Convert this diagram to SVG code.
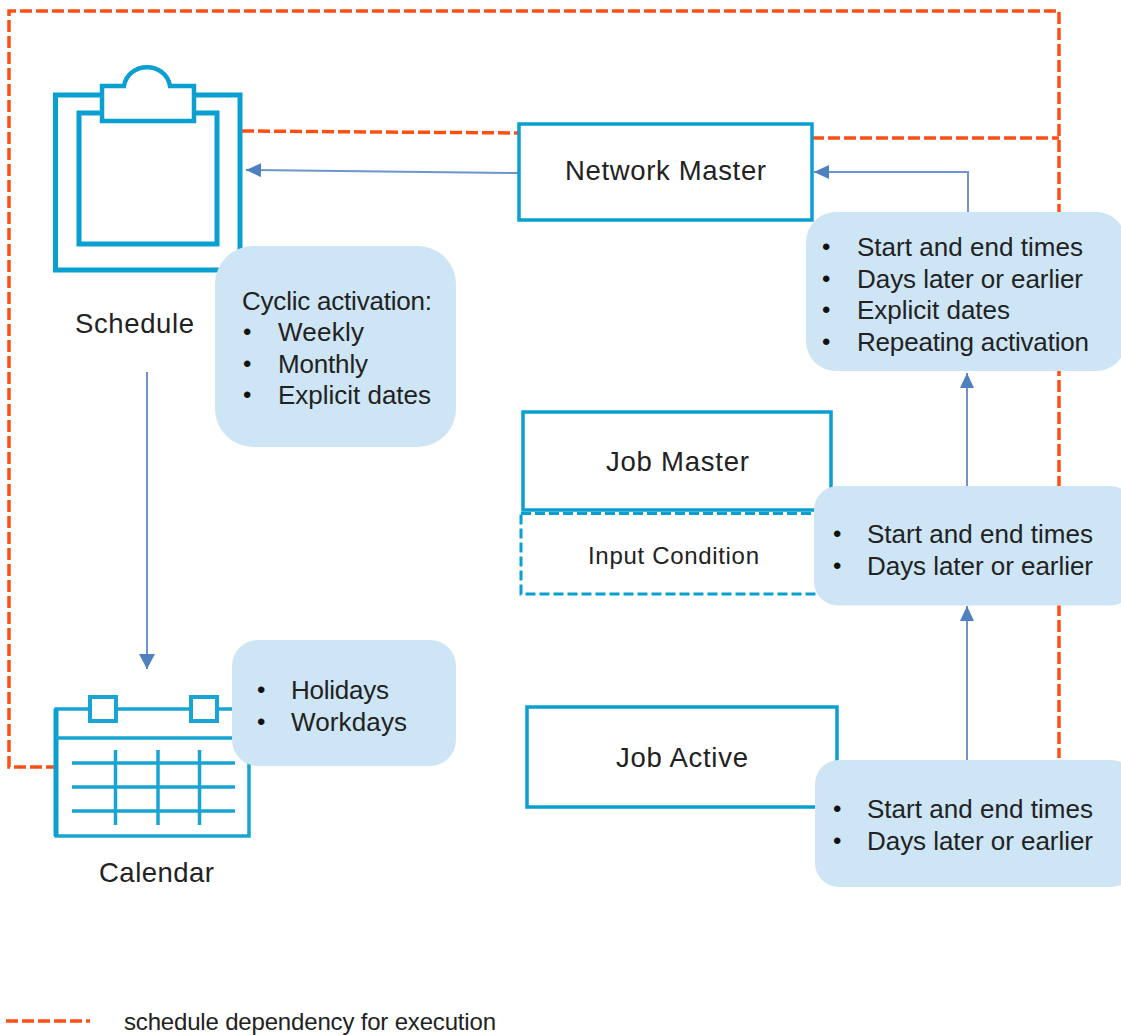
<svg xmlns="http://www.w3.org/2000/svg" width="1121" height="1035" viewBox="0 0 1121 1035">
<style>
text{font-family:"Liberation Sans",Arial,sans-serif;font-size:26px;fill:#222}
.m{text-anchor:middle}
.n{font-size:27.500px}
.d{font-size:24px;fill:#111}
.box{fill:#fff;stroke:#0a9fd1;stroke-width:3.5}
.icon{fill:none;stroke:#0a9fd1;stroke-width:5}
.thin{fill:none;stroke:#18a5d4;stroke-width:3.5}
.call{fill:#cde5f5}
.dep{fill:none;stroke:#ff4f14;stroke-width:3.5;stroke-dasharray:12 4}
.flow{fill:none;stroke:#6f94cc;stroke-width:2}
.head{fill:#4f80c0}
</style>
<defs><marker id="b" markerUnits="userSpaceOnUse" markerWidth="16" markerHeight="14" refX="15" refY="7" orient="auto"><path d="M0 0L15 7L0 14Z" class="head"/></marker>
<marker id="c" markerUnits="userSpaceOnUse" markerWidth="16" markerHeight="17" refX="15" refY="8" orient="auto"><path d="M0 0L15 8L0 16Z" class="head"/></marker></defs>
<g id="connectors">
<path class="dep" d="M242 131L518 133M812 138H1059M58 767H9V11H1059V758"/>
<path class="flow" d="M518 173L246 170" marker-end="url(#b)"/>
<path class="flow" d="M968 212V172H814" marker-end="url(#b)"/>
<path class="flow" d="M967 486V373" marker-end="url(#b)"/>
<path class="flow" d="M967 760V606" marker-end="url(#b)"/>
<path class="flow" d="M147 372V669" marker-end="url(#c)"/>
</g>
<g id="schedule">
<rect class="icon" x="55.500" y="95" width="184.500" height="175"/>
<rect class="icon" x="79" y="113" width="138" height="131"/>
<path d="M102 121V86H124C128 61 166 61 170 86H194V121Z" fill="#fff" stroke="#0a9fd1" stroke-width="4.500"/>
<text x="134.500" y="333" class="m n" textLength="119">Schedule</text>
</g>
<g id="calendar">
<path class="thin" d="M56 836V709H249V836Z"/>
<path d="M56 709V836" fill="none" stroke="#0a9fd1" stroke-width="5"/>
<path class="thin" d="M56 738H249M72 763H235M72 787H235M72 811H235M115.500 750V825M158 750V825M199.500 750V825"/>
<rect x="90" y="697" width="26" height="24" fill="#fff" stroke="#18a5d4" stroke-width="4"/>
<rect x="191" y="697" width="26" height="24" fill="#fff" stroke="#18a5d4" stroke-width="4"/>
<text x="156.500" y="882" class="m n" textLength="115">Calendar</text>
</g>
<g id="cyclic">
<rect class="call" x="215" y="246" width="241" height="201" rx="38"/>
<text x="242" y="310" textLength="190">Cyclic activation:</text>
<text class="d" x="243" y="340">•</text><text x="278" y="341" textLength="86">Weekly</text>
<text class="d" x="243" y="372">•</text><text x="278" y="373" textLength="90">Monthly</text>
<text class="d" x="243" y="403">•</text><text x="278" y="404" textLength="153">Explicit dates</text>
</g>
<g id="holidays">
<rect class="call" x="232" y="640" width="224" height="126" rx="26"/>
<text class="d" x="257" y="698">•</text><text x="291" y="699" textLength="98">Holidays</text>
<text class="d" x="257" y="730">•</text><text x="291" y="731" textLength="116">Workdays</text>
</g>
<g id="network-master">
<rect class="box" x="519" y="124" width="293" height="96"/>
<text x="665.500" y="180" class="m n" textLength="201">Network Master</text>
</g>
<g id="nm-times">
<rect class="call" x="806" y="212" width="320" height="159" rx="30"/>
<text class="d" x="822" y="255">•</text><text x="857" y="256" textLength="226">Start and end times</text>
<text class="d" x="822" y="287">•</text><text x="857" y="288" textLength="226">Days later or earlier</text>
<text class="d" x="822" y="318">•</text><text x="857" y="319" textLength="153">Explicit dates</text>
<text class="d" x="822" y="350">•</text><text x="857" y="351" textLength="232">Repeating activation</text>
</g>
<g id="job-master">
<rect class="box" x="523" y="412" width="308" height="98"/>
<text x="677.500" y="471" class="m n" textLength="143">Job Master</text>
</g>
<g id="input-condition">
<rect x="521" y="513.500" width="310" height="80.500" fill="none" stroke="#0a9fd1" stroke-width="3" stroke-dasharray="10 4"/>
<text x="673.500" y="564" class="m" style="font-size:24px" textLength="171">Input Condition</text>
</g>
<g id="jm-times">
<rect class="call" x="814" y="486" width="320" height="119.500" rx="24"/>
<text class="d" x="833" y="542">•</text><text x="867" y="543" textLength="226">Start and end times</text>
<text class="d" x="833" y="574">•</text><text x="867" y="575" textLength="226">Days later or earlier</text>
</g>
<g id="job-active">
<rect class="box" x="527" y="707" width="310" height="100"/>
<text x="682" y="767" class="m n" textLength="132">Job Active</text>
</g>
<g id="ja-times">
<rect class="call" x="815" y="760" width="320" height="127" rx="24"/>
<text class="d" x="833" y="817">•</text><text x="867" y="818" textLength="226">Start and end times</text>
<text class="d" x="833" y="849">•</text><text x="867" y="850" textLength="226">Days later or earlier</text>
</g>
<g id="legend">
<path class="dep" d="M6 1021H90"/>
<text x="124" y="1030" style="font-size:24px" textLength="372">schedule dependency for execution</text>
</g>
</svg>
